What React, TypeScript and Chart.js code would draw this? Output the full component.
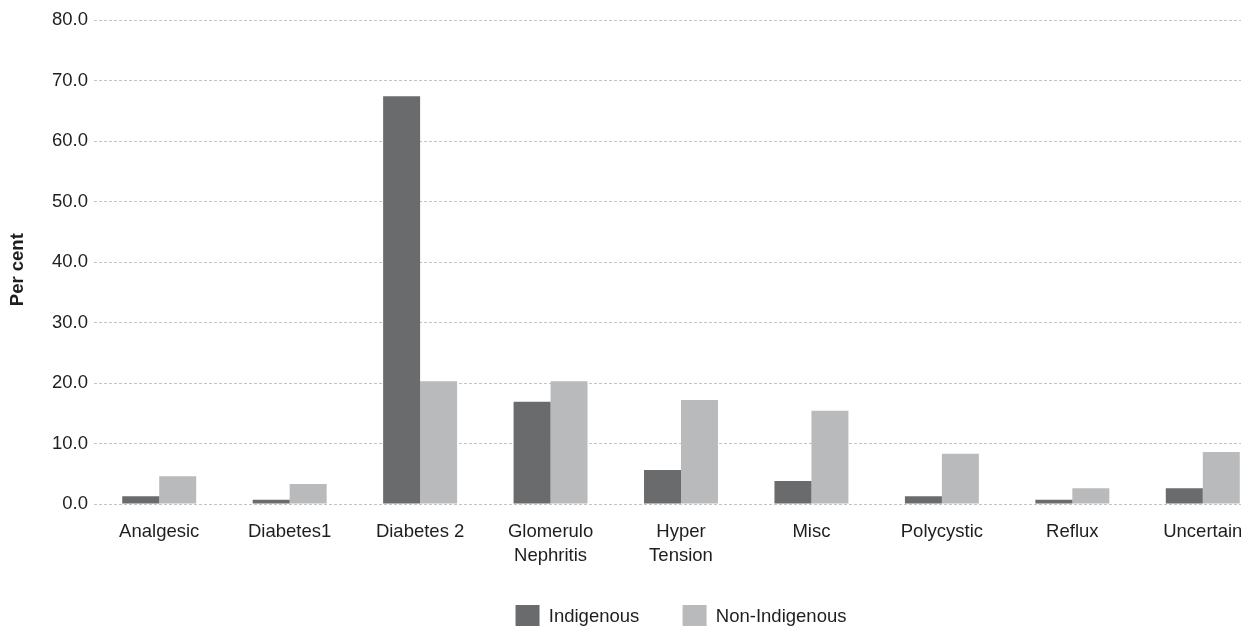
import React, { useEffect, useRef } from "react";
import { Chart, registerables } from "chart.js";

Chart.register(...registerables);

const categories: (string | string[])[] = [
  "Analgesic",
  "Diabetes1",
  "Diabetes 2",
  ["Glomerulo", "Nephritis"],
  ["Hyper", "Tension"],
  "Misc",
  "Polycystic",
  "Reflux",
  "Uncertain",
];
const indigenous = [1.3, 0.7, 67.4, 16.9, 5.6, 3.8, 1.3, 0.7, 2.6];
const nonIndigenous = [4.6, 3.3, 20.3, 20.3, 17.2, 15.4, 8.3, 2.6, 8.6];
const seriesNames = ["Indigenous", "Non-Indigenous"];
const yTitle = "Per cent";

const FONT = "'Liberation Sans', Arial, Helvetica, sans-serif";
const TEXT = "#1e1e1e";

export default function App() {
  const ref = useRef<HTMLCanvasElement>(null);
  useEffect(() => {
    if (!ref.current) return;
    const chart = new Chart(ref.current, {
      type: "bar",
      data: {
        labels: categories as any,
        datasets: [
          {
            label: seriesNames[0],
            data: indigenous,
            backgroundColor: "#6a6b6d",
            borderWidth: 0,
            categoryPercentage: 0.567,
            barPercentage: 1,
          },
          {
            label: seriesNames[1],
            data: nonIndigenous,
            backgroundColor: "#b9babc",
            borderWidth: 0,
            categoryPercentage: 0.567,
            barPercentage: 1,
          },
        ],
      },
      options: {
        responsive: false,
        animation: false,
        devicePixelRatio: 1,
        layout: { padding: { top: 20, left: 0, right: 0, bottom: 0 } },
        plugins: {
          legend: {
            position: "bottom",
            fullSize: false,
            labels: {
              boxWidth: 24,
              boxHeight: 24,
              padding: 33,
              color: TEXT,
              font: { family: FONT, size: 18.5 },
              generateLabels: (c: any) => {
                const items = (Chart as any).defaults.plugins.legend.labels.generateLabels(c);
                items.forEach((it: any, i: number) => {
                  if (i < items.length - 1) it.text = it.text + "\u00a0\u00a0";
                });
                return items;
              },
            },
          },
          tooltip: { enabled: false },
        },
        scales: {
          x: {
            grid: { display: false, drawTicks: false },
            border: { display: false },
            ticks: {
              color: TEXT,
              padding: 16,
              font: { family: FONT, size: 18.5, lineHeight: 1.3 },
              maxRotation: 0,
              autoSkip: false,
            },
            afterFit: (s: any) => {
              s.height = 68;
            },
          },
          y: {
            min: 0,
            max: 80,
            grid: { color: "#c4c4c4", lineWidth: 1, drawTicks: false },
            border: { display: false, dash: [3, 2] },
            ticks: {
              stepSize: 10,
              color: TEXT,
              padding: 6,
              font: { family: FONT, size: 18.5 },
              callback: (v: any) => Number(v).toFixed(1),
            },
            title: {
              display: true,
              text: yTitle + "\u00a0\u00a0\u00a0",
              color: TEXT,
              font: { family: FONT, size: 18.5, weight: "bold" },
              padding: { top: 7, bottom: 4 },
            },
            afterFit: (s: any) => {
              s.width = 94;
            },
          },
        },
      },
    });
    return () => chart.destroy();
  }, []);
  return (
    <div
      style={{
        position: "fixed",
        left: 0,
        top: 0,
        width: 1241,
        height: 626,
        overflow: "hidden",
        background: "#fff",
      }}
    >
      <canvas ref={ref} width={1268} height={639} style={{ display: "block" }} />
    </div>
  );
}
